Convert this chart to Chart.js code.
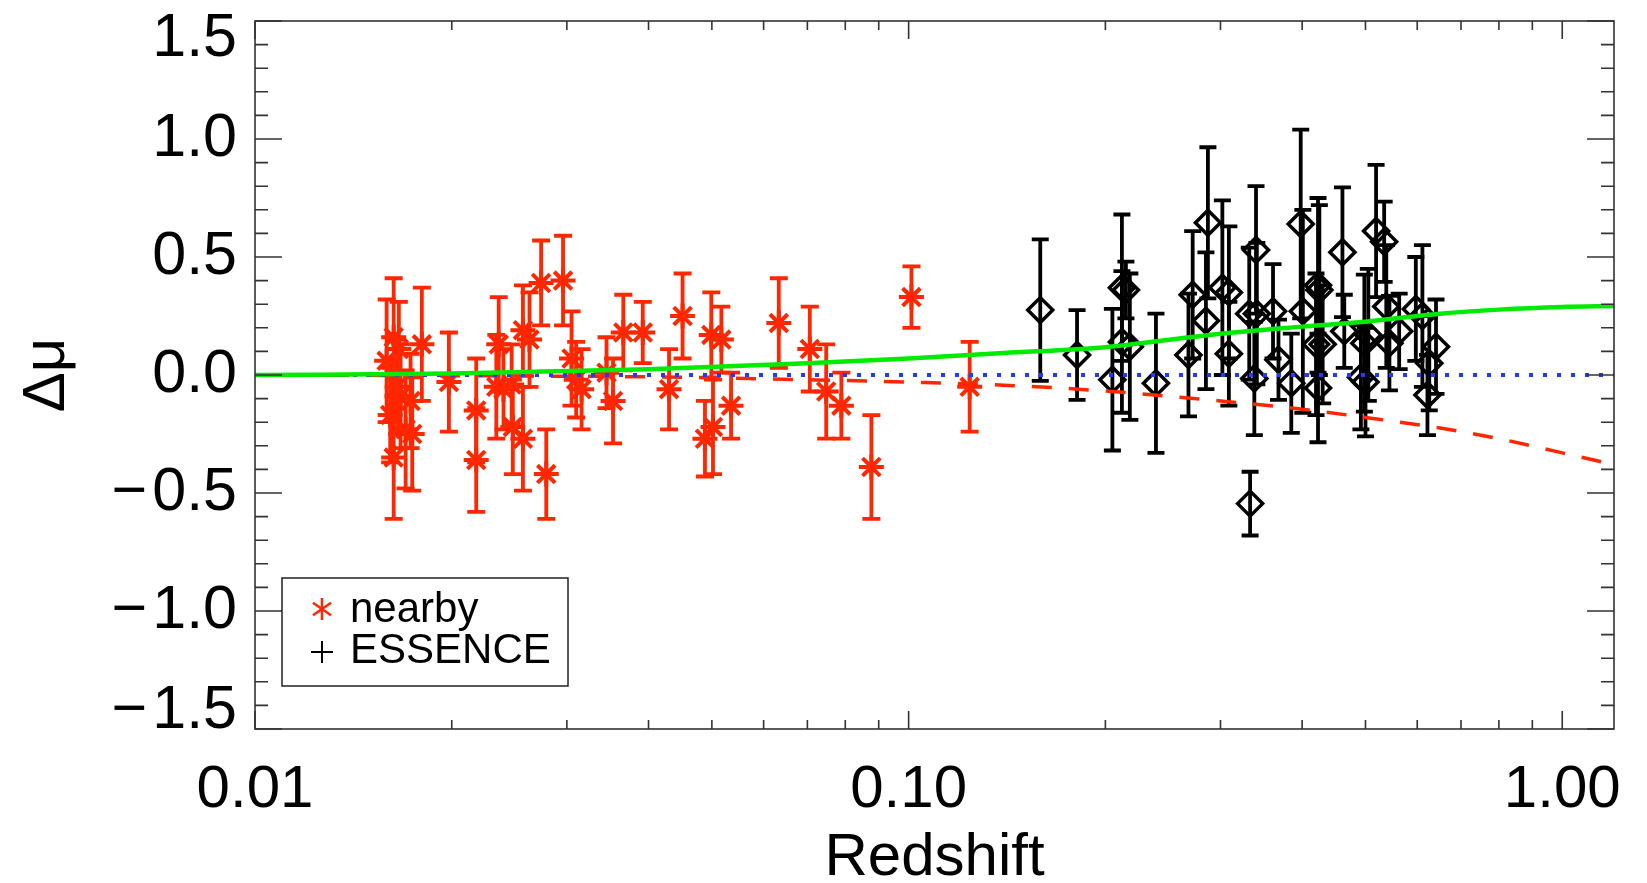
<!DOCTYPE html>
<html>
<head>
<meta charset="utf-8">
<script src="https://cdn.jsdelivr.net/npm/chart.js@4.4.0/dist/chart.umd.min.js"></script>
<style>
  body { margin: 0; background: #fff; }
  canvas { display: block; }
</style>
</head>
<body>
<canvas id="hubbleChart" width="1647" height="883"></canvas>
<script>
// nearby SNe (red asterisks)
var nearbyZ = [0.0159, 0.0161, 0.0163, 0.0163, 0.0165, 0.0166, 0.0167, 0.0170, 0.0173, 0.0174,
    0.0180, 0.0198, 0.0218, 0.0218, 0.0234, 0.0236, 0.0240, 0.0247, 0.0248, 0.0257,
    0.0257, 0.0263, 0.0274, 0.0279, 0.0296, 0.0305, 0.0310, 0.0316, 0.0345, 0.0353,
    0.0366, 0.0392, 0.0430, 0.0451, 0.0488, 0.0499, 0.0502, 0.0517, 0.0535, 0.0633,
    0.0706, 0.0748, 0.0789, 0.0877, 0.1010, 0.1240];
var nearbyMu = [0.06, -0.17, -0.35, 0.16, -0.05, 0.11, -0.09, -0.23, -0.11, -0.25,
    0.13, -0.03, -0.15, -0.36, -0.05, 0.13, -0.06, -0.04, -0.22, 0.19,
    -0.27, 0.15, 0.39, -0.42, 0.40, 0.07, -0.02, -0.06, 0.01, -0.11,
    0.18, 0.18, -0.06, 0.25, -0.27, 0.17, -0.22, 0.15, -0.13, 0.22,
    0.11, -0.07, -0.13, -0.39, 0.33, -0.05];
var nearbyErr = [0.26, 0.20, 0.26, 0.25, 0.20, 0.20, 0.22, 0.25, 0.20, 0.24,
    0.24, 0.21, 0.22, 0.22, 0.22, 0.20, 0.17, 0.17, 0.20, 0.19,
    0.22, 0.20, 0.18, 0.19, 0.19, 0.20, 0.16, 0.17, 0.15, 0.18,
    0.16, 0.13, 0.17, 0.18, 0.16, 0.18, 0.20, 0.14, 0.14, 0.19,
    0.18, 0.20, 0.14, 0.22, 0.13, 0.19];

// ESSENCE SNe (black diamonds)
var essenceZ = [0.159, 0.181, 0.205, 0.212, 0.212, 0.215, 0.218, 0.239, 0.268, 0.272,
    0.285, 0.287, 0.302, 0.309, 0.309, 0.332, 0.333, 0.338, 0.340, 0.341,
    0.361, 0.368, 0.385, 0.398, 0.401, 0.420, 0.423, 0.423, 0.425, 0.430,
    0.461, 0.464, 0.492, 0.498, 0.500, 0.505, 0.519, 0.534, 0.538, 0.544,
    0.563, 0.597, 0.611, 0.622, 0.626, 0.641];
var essenceMu = [0.275, 0.085, -0.02, 0.37, 0.14, 0.36, 0.12, -0.035, 0.085, 0.34,
    0.23, 0.645, 0.37, 0.35, 0.09, 0.26, -0.545, -0.015, 0.53, 0.26,
    0.27, 0.065, -0.035, 0.64, 0.27, 0.13, 0.38, -0.055, 0.36, 0.13,
    0.52, 0.185, -0.01, 0.135, -0.03, 0.17, 0.61, 0.565, 0.29, 0.135,
    0.185, 0.28, 0.25, -0.085, 0.05, 0.12];
var essenceErr = [0.30, 0.19, 0.30, 0.31, 0.30, 0.12, 0.31, 0.295, 0.26, 0.27,
    0.29, 0.32, 0.37, 0.28, 0.22, 0.28, 0.135, 0.24, 0.27, 0.30,
    0.20, 0.17, 0.21, 0.40, 0.43, 0.30, 0.37, 0.23, 0.36, 0.25,
    0.275, 0.155, 0.22, 0.29, 0.23, 0.28, 0.28, 0.17, 0.26, 0.20,
    0.16, 0.22, 0.30, 0.17, 0.20, 0.20];

// model curves
var modelZ = [0.01, 0.02, 0.04, 0.07, 0.1, 0.14, 0.2, 0.3, 0.4, 0.5, 0.65, 0.8, 1.0, 1.2];
var greenMu = [0.0, 0.006, 0.024, 0.05, 0.07, 0.093, 0.118, 0.175, 0.205, 0.226, 0.26, 0.277, 0.288, 0.292];
var redMu = [0.0, -0.003, -0.008, -0.02, -0.03, -0.043, -0.068, -0.11, -0.145, -0.18, -0.225, -0.27, -0.33, -0.38];
var flatZ = [0.01, 1.2];
var flatMu = [0.0, 0.0];

var xMajor = [0.01, 0.1, 1.0];
var xMinor = [0.02, 0.03, 0.04, 0.05, 0.06, 0.07, 0.08, 0.09, 0.2, 0.3, 0.4, 0.5, 0.6, 0.7, 0.8, 0.9];
var yMajor = [-1.5, -1.0, -0.5, 0.0, 0.5, 1.0, 1.5];

var RED = 'rgb(255,38,0)';
var FONT = '"Liberation Sans", Arial, Helvetica, sans-serif';

function pts(xs, ys) {
    return xs.map(function (v, i) { return {x: v, y: ys[i]}; });
}

// vertical error bars with caps, drawn under the symbols
var errorBars = {
    id: 'errorBars',
    beforeDatasetsDraw: function (chart) {
        var ctx = chart.ctx, a = chart.chartArea;
        var xs = chart.scales.x, ys = chart.scales.y;
        ctx.save();
        ctx.beginPath();
        ctx.rect(a.left, a.top, a.right - a.left, a.bottom - a.top);
        ctx.clip();
        chart.data.datasets.forEach(function (ds) {
            if (!ds.errors) return;
            ctx.strokeStyle = ds.borderColor;
            ctx.lineWidth = ds.barWidth;
            ds.data.forEach(function (p, i) {
                var px = xs.getPixelForValue(p.x);
                var y1 = ys.getPixelForValue(p.y + ds.errors[i]);
                var y2 = ys.getPixelForValue(p.y - ds.errors[i]);
                ctx.beginPath();
                ctx.moveTo(px, y1); ctx.lineTo(px, y2);
                ctx.moveTo(px - ds.capHalf, y1); ctx.lineTo(px + ds.capHalf, y1);
                ctx.moveTo(px - ds.capHalf, y2); ctx.lineTo(px + ds.capHalf, y2);
                ctx.stroke();
            });
        });
        ctx.restore();
    }
};

// IDL-style box with inward ticks on all four sides
var frameTicks = {
    id: 'frameTicks',
    afterDatasetsDraw: function (chart) {
        var ctx = chart.ctx, a = chart.chartArea;
        var xs = chart.scales.x, ys = chart.scales.y;
        ctx.save();
        ctx.strokeStyle = '#333';
        ctx.lineWidth = 1.6;
        ctx.strokeRect(a.left, a.top, a.right - a.left, a.bottom - a.top);
        ctx.beginPath();
        for (var v = -15; v <= 15; v++) {
            var py = ys.getPixelForValue(v / 10);
            var len = (v % 5 === 0) ? 27 : 13;
            ctx.moveTo(a.left, py); ctx.lineTo(a.left + len, py);
            ctx.moveTo(a.right, py); ctx.lineTo(a.right - len, py);
        }
        xMajor.concat(xMinor).forEach(function (z) {
            var px = xs.getPixelForValue(z);
            var len = xMajor.indexOf(z) >= 0 ? 18 : 9;
            ctx.moveTo(px, a.bottom); ctx.lineTo(px, a.bottom - len);
            ctx.moveTo(px, a.top); ctx.lineTo(px, a.top + len);
        });
        ctx.stroke();
        ctx.restore();
    }
};

// legend box in the lower left corner
var boxLegend = {
    id: 'boxLegend',
    afterDraw: function (chart) {
        var ctx = chart.ctx;
        ctx.save();
        ctx.fillStyle = '#fff';
        ctx.fillRect(282, 578, 286, 108);
        ctx.strokeStyle = '#222';
        ctx.lineWidth = 1.5;
        ctx.strokeRect(282, 578, 286, 108);
        // asterisk
        ctx.strokeStyle = RED;
        ctx.lineWidth = 2.5;
        var cx = 322, cy = 609, r = 11;
        [90, 35, 145].forEach(function (deg) {
            var t = deg * Math.PI / 180;
            ctx.beginPath();
            ctx.moveTo(cx - r * Math.cos(t), cy - r * Math.sin(t));
            ctx.lineTo(cx + r * Math.cos(t), cy + r * Math.sin(t));
            ctx.stroke();
        });
        // plus
        ctx.strokeStyle = '#000';
        ctx.lineWidth = 2;
        ctx.beginPath();
        ctx.moveTo(311, 652); ctx.lineTo(333, 652);
        ctx.moveTo(322, 641); ctx.lineTo(322, 663);
        ctx.stroke();
        ctx.fillStyle = '#000';
        ctx.font = '42px ' + FONT;
        ctx.textBaseline = 'alphabetic';
        ctx.fillText('nearby', 350, 622);
        ctx.fillText('ESSENCE', 350, 663);
        ctx.restore();
    }
};

var chart = new Chart(document.getElementById('hubbleChart').getContext('2d'), {
    type: 'scatter',
    data: {
        datasets: [
            {
                label: 'nearby',
                data: pts(nearbyZ, nearbyMu),
                errors: nearbyErr,
                barWidth: 3.8,
                capHalf: 9,
                pointStyle: 'star',
                pointRadius: 12.5,
                borderColor: RED,
                backgroundColor: RED,
                pointBorderWidth: 4,
                order: 3
            },
            {
                label: 'ESSENCE',
                data: pts(essenceZ, essenceMu),
                errors: essenceErr,
                barWidth: 3.8,
                capHalf: 8.5,
                pointStyle: 'rectRot',
                pointRadius: 12.5,
                borderColor: '#000',
                backgroundColor: 'rgba(0,0,0,0)',
                pointBorderWidth: 3.5,
                order: 2
            },
            {
                type: 'line',
                data: pts(flatZ, flatMu),
                borderColor: 'rgb(30,60,255)',
                borderWidth: 4,
                borderDash: [4, 10],
                pointRadius: 0,
                order: 1
            },
            {
                type: 'line',
                data: pts(modelZ, redMu),
                borderColor: RED,
                borderWidth: 3.5,
                borderDash: [20, 17],
                pointRadius: 0,
                cubicInterpolationMode: 'monotone',
                order: 1
            },
            {
                type: 'line',
                data: pts(modelZ, greenMu),
                borderColor: 'rgb(0,235,0)',
                borderWidth: 4.5,
                pointRadius: 0,
                cubicInterpolationMode: 'monotone',
                order: 0
            }
        ]
    },
    options: {
        responsive: false,
        animation: false,
        events: [],
        layout: {
            padding: {top: 21, right: 33, left: 0, bottom: 0}
        },
        plugins: {
            legend: {display: false},
            tooltip: {enabled: false}
        },
        scales: {
            x: {
                type: 'logarithmic',
                min: 0.01,
                max: 1.2,
                grid: {display: false, drawTicks: false},
                border: {display: false},
                afterBuildTicks: function (scale) {
                    scale.ticks = xMajor.map(function (v) { return {value: v}; });
                },
                afterFit: function (scale) {
                    scale.height = 154;
                    scale.paddingLeft = 0;
                    scale.paddingRight = 0;
                },
                ticks: {
                    padding: 25,
                    maxRotation: 0,
                    autoSkip: false,
                    color: '#000',
                    font: {family: FONT, size: 60},
                    callback: function (v) { return Number(v).toFixed(2); }
                },
                title: {
                    display: true,
                    text: 'Redshift',
                    color: '#000',
                    font: {family: FONT, size: 60, lineHeight: 0.75},
                    padding: {top: 0, bottom: 2}
                }
            },
            y: {
                min: -1.5,
                max: 1.5,
                grid: {display: false, drawTicks: false},
                border: {display: false},
                afterBuildTicks: function (scale) {
                    scale.ticks = yMajor.map(function (v) { return {value: v}; });
                },
                afterFit: function (scale) {
                    scale.width = 255;
                    scale.paddingTop = 0;
                    scale.paddingBottom = 0;
                },
                ticks: {
                    padding: 18,
                    color: '#000',
                    font: {family: FONT, size: 61, lineHeight: 0.6},
                    callback: function (v) {
                        var s = (v < -0.001 ? '\u2212\u200a' : '') + Math.abs(v).toFixed(1);
                        // keep the end labels inside the frame, as IDL does
                        if (v >= 1.5) return ['', s];
                        if (v <= -1.5) return [s, ''];
                        return s;
                    }
                },
                title: {
                    display: true,
                    text: '\u0394\u03bc',
                    color: '#000',
                    font: {family: FONT, size: 60},
                    padding: {top: 11, bottom: 0}
                }
            }
        }
    },
    plugins: [errorBars, frameTicks, boxLegend]
});
</script>
</body>
</html>
